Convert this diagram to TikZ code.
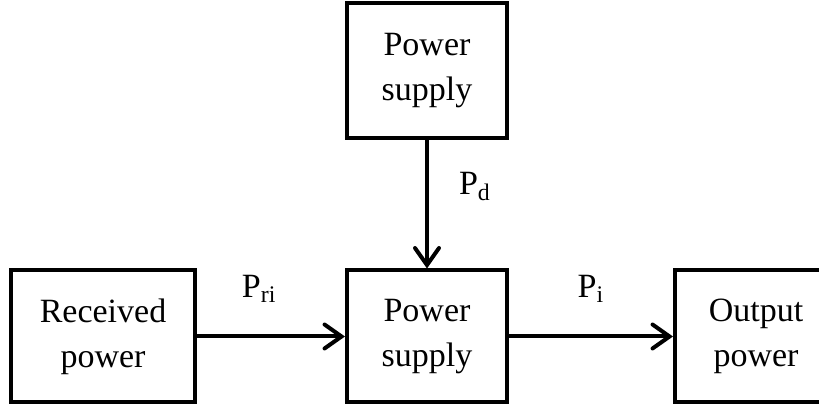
\documentclass[tikz,border=0pt]{standalone}
\usepackage{fontspec}
\setmainfont{Liberation Serif}
\usepackage{tikz}
\usetikzlibrary{arrows.meta,positioning}
\tikzset{
  powerarrow/.style={-{Straight Barb[length=8.5pt, width=12pt, line cap=round]},
    line width=2pt, draw=black},
  powerbox/.style={draw=black, line width=2pt, align=center,
    minimum width=80pt, minimum height=66pt, inner sep=2pt,
    font=\fontsize{17}{22.5}\selectfont},
  powerlabel/.style={font=\fontsize{17}{17}\selectfont, inner sep=1pt}
}
\begin{document}
\begin{tikzpicture}[node distance=64pt and 74pt]
  \clip (0,0) rectangle (409.5pt,202.5pt);
  \node[powerbox, minimum width=92pt] (received) at (51.5pt,34.25pt)
    {Received\\power};
  \node[powerbox, right=of received] (supply) {Power\\supply};
  \node[powerbox, right=82pt of supply, minimum width=81pt] (output)
    {Output\\power};
  \node[powerbox, minimum height=67.5pt, above=of supply] (source)
    {Power\\supply};

  \draw[powerarrow] (source) -- node[powerlabel, pos=0.36, right=14pt]
    {P\textsubscript{d}} (supply);
  \draw[powerarrow] (received) -- node[powerlabel, pos=0.42, above=15pt]
    {P\textsubscript{ri}} (supply);
  \draw[powerarrow] (supply) -- node[powerlabel, above=15pt]
    {P\textsubscript{i}} (output);
\end{tikzpicture}
\end{document}
